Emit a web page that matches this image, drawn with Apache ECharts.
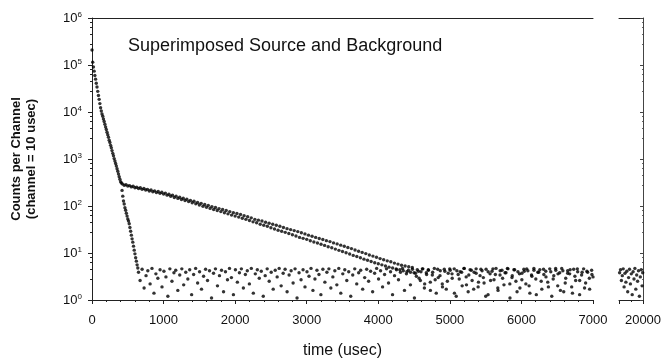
<!DOCTYPE html>
<html>
<head>
<meta charset="utf-8">
<script src="https://cdn.jsdelivr.net/npm/echarts@6/dist/echarts.min.js"></script>
<style>
  html, body { margin: 0; padding: 0; background: #fff; }
  #chart { width: 665px; height: 364px; }
</style>
</head>
<body>
<div id="chart"></div>
<script>
// * 叠加的源和本底计数 - 对数坐标散点图
// ! x 轴断开: 0-7000 和 20000 附近两段

// ? 数据 [时间 usec, 每道计数]
// 快速衰减段 (源和本底共有)
const steepPart = [
  [0, 209000], [10, 115000], [20, 91000], [30, 74000], [40, 60000], [50, 50000],
  [60, 41000], [70, 34000], [80, 27500], [90, 22400], [100, 18600], [110, 15100],
  [120, 12300], [130, 10500], [140, 9100], [150, 8100], [160, 7100], [170, 6300],
  [180, 5500], [190, 4800], [200, 4250], [210, 3700], [220, 3300], [230, 2900],
  [240, 2500], [250, 2250], [260, 1950], [270, 1740], [280, 1510], [290, 1320],
  [300, 1170], [310, 1020], [320, 910], [330, 800], [340, 710], [350, 620],
  [360, 550], [370, 480], [380, 420], [390, 370], [400, 330], [410, 310]
]

// 源: 慢衰减段
const sourceSlow = [
  [425, 295], [450, 276], [475, 283], [500, 266], [525, 272], [550, 255], [575, 263], [600, 245],
  [625, 251], [650, 236], [675, 244], [700, 226], [725, 235], [750, 219], [775, 226], [800, 209],
  [825, 219], [850, 201], [875, 210], [900, 193], [925, 203], [950, 186], [975, 196], [1000, 179],
  [1025, 188], [1050, 170], [1075, 178], [1100, 161], [1125, 170], [1150, 152], [1175, 162], [1200, 145],
  [1225, 154], [1250, 137], [1275, 146], [1300, 131], [1325, 139], [1350, 124], [1375, 132], [1400, 117],
  [1425, 126], [1450, 111], [1475, 119], [1500, 105], [1525, 114], [1550, 99], [1575, 108], [1600, 94],
  [1625, 103], [1650, 89], [1675, 97], [1700, 84], [1725, 93], [1750, 80], [1775, 88], [1800, 76],
  [1825, 84], [1850, 72], [1875, 80], [1900, 68], [1925, 76], [1950, 64], [1975, 72], [2000, 61],
  [2025, 69], [2050, 58], [2075, 66], [2100, 55], [2125, 62], [2150, 52], [2175, 59], [2200, 49],
  [2225, 56], [2250, 46], [2275, 52], [2300, 44], [2325, 50], [2350, 41], [2375, 48], [2400, 39],
  [2425, 45], [2450, 37], [2475, 43], [2500, 34.5], [2525, 41], [2550, 32.5], [2575, 39], [2600, 30.5],
  [2625, 37], [2650, 29], [2675, 35], [2700, 27.5], [2725, 33], [2750, 26], [2775, 31.5], [2800, 24.5],
  [2825, 30], [2850, 23], [2875, 28.5], [2900, 21.5], [2925, 27], [2950, 20.5], [2975, 25.5], [3000, 19.5],
  [3025, 24], [3050, 18.2], [3075, 22.8], [3100, 17.2], [3125, 21.5], [3150, 16.3], [3175, 20.4], [3200, 15.4],
  [3225, 19.4], [3250, 14.5], [3275, 18.3], [3300, 13.6], [3325, 17.5], [3350, 12.9], [3375, 16.4], [3400, 12.1],
  [3425, 15.6], [3450, 11.4], [3475, 14.7], [3500, 10.8], [3525, 13.9], [3550, 10.1], [3575, 13.1], [3600, 9.5],
  [3625, 12.4], [3650, 8.9], [3675, 11.6], [3700, 8.4], [3725, 10.9], [3750, 7.9], [3775, 10.3], [3800, 7.4],
  [3825, 9.7], [3850, 7.0], [3875, 9.1], [3900, 6.6], [3925, 8.6], [3950, 6.2], [3975, 8.1], [4000, 5.9],
  [4025, 7.6], [4050, 5.6], [4075, 7.2], [4100, 5.3], [4125, 6.8], [4150, 5.0], [4175, 6.5], [4200, 4.8],
  [4225, 6.1], [4250, 4.6], [4275, 5.8], [4300, 4.4], [4325, 5.5], [4350, 4.2], [4375, 5.3], [4400, 4.0],
  [4425, 5.1], [4450, 3.9], [4475, 4.9], [4500, 3.8]
]

// 源: 尾部 (落到本底水平)
const sourceTail = [
  [4520, 3.7], [4545, 4.4], [4570, 2.9], [4596, 4.0], [4622, 4.6], [4648, 2.2], [4675, 3.5], [4700, 4.3],
  [4728, 1.6], [4760, 3.9], [4795, 2.7], [4830, 4.5], [4862, 3.3], [4897, 1.9], [4930, 4.1], [4965, 2.5],
  [4998, 4.6], [5030, 3.6], [5064, 1.4], [5098, 4.2], [5131, 2.8], [5165, 3.9], [5198, 4.7], [5232, 2.1],
  [5265, 3.4], [5300, 4.3], [5333, 1.7], [5367, 3.7], [5400, 2.4], [5434, 4.5], [5468, 3.0], [5501, 1.2],
  [5535, 4.0], [5569, 2.6], [5602, 4.6], [5636, 3.5], [5670, 1.8], [5703, 4.2], [5737, 2.9], [5771, 3.8],
  [5804, 4.7], [5838, 2.2], [5872, 3.3], [5905, 4.4], [5939, 1.5], [5973, 3.6], [6006, 2.7], [6040, 4.1],
  [6074, 4.6], [6107, 2.0], [6141, 3.4], [6175, 4.3], [6208, 1.3], [6242, 3.9], [6276, 2.5], [6309, 4.5],
  [6343, 3.1], [6377, 1.9], [6410, 4.0], [6444, 2.8], [6478, 4.7], [6511, 3.6], [6545, 1.6], [6579, 4.2],
  [6612, 2.3], [6646, 3.7], [6680, 4.4], [6713, 1.4], [6747, 3.2], [6781, 4.6], [6814, 2.6], [6848, 3.9],
  [6882, 1.8], [6915, 4.1], [6949, 2.9], [6985, 3.5]
]

// 本底: 快速下降段
const bgDrop = [
  [420, 215], [430, 162], [440, 128], [450, 110], [460, 92], [470, 81], [480, 70], [490, 61],
  [500, 53], [510, 48], [520, 42], [530, 35], [540, 29], [550, 24], [560, 20], [570, 17],
  [580, 14], [590, 11.5], [600, 9.6], [610, 7.9], [620, 6.7], [630, 5.6], [640, 4.8]
]

// 本底: 平坦噪声段
const bgNoise = [
  [650, 3.9], [672, 2.6], [700, 4.5], [728, 1.8], [755, 3.3], [780, 4.2], [812, 2.2], [838, 4.7],
  [866, 1.4], [893, 3.6], [920, 2.9], [951, 4.4], [978, 1.9], [1005, 4.1], [1033, 3.1], [1060, 1.2],
  [1088, 4.6], [1117, 2.5], [1145, 3.8], [1170, 4.3], [1199, 1.6], [1226, 3.4], [1255, 4.6], [1281, 2.1],
  [1310, 3.9], [1339, 2.8], [1365, 4.4], [1392, 1.3], [1420, 3.5], [1448, 4.7], [1476, 2.3], [1503, 4.0],
  [1530, 1.7], [1559, 3.2], [1587, 4.5], [1614, 2.6], [1642, 4.2], [1670, 1.1], [1698, 3.7], [1725, 4.6],
  [1753, 2.0], [1781, 3.3], [1810, 4.3], [1838, 1.5], [1865, 4.0], [1893, 2.7], [1921, 4.7], [1948, 3.0],
  [1976, 1.3], [2004, 4.4], [2031, 2.4], [2060, 3.8], [2087, 4.6], [2115, 1.8], [2143, 3.5], [2170, 4.2],
  [2199, 2.2], [2226, 4.7], [2254, 1.4], [2282, 3.6], [2310, 4.4], [2337, 2.9], [2365, 4.1], [2393, 1.2],
  [2420, 3.3], [2448, 4.6], [2476, 2.5], [2504, 3.9], [2532, 1.7], [2560, 4.3], [2587, 3.1], [2615, 4.7],
  [2643, 2.0], [2671, 3.7], [2698, 4.5], [2726, 1.5], [2754, 3.4], [2782, 4.2], [2810, 2.3], [2837, 4.6],
  [2865, 1.1], [2893, 3.8], [2921, 2.7], [2949, 4.4], [2976, 1.9], [3004, 4.0], [3032, 3.2], [3060, 4.7],
  [3087, 1.6], [3115, 2.8], [3143, 4.3], [3171, 3.5], [3198, 1.3], [3226, 4.5], [3254, 2.4], [3282, 3.9],
  [3310, 4.6], [3337, 1.8], [3365, 3.1], [3393, 4.2], [3421, 2.1], [3448, 4.7], [3476, 1.4], [3504, 3.6],
  [3532, 4.4], [3560, 2.6], [3587, 4.0], [3615, 1.2], [3643, 3.4], [3671, 4.6], [3699, 2.2], [3726, 3.8],
  [3754, 4.3], [3782, 1.7], [3810, 3.0], [3838, 4.5], [3865, 2.5], [3893, 4.1], [3921, 1.5], [3949, 3.7],
  [3977, 4.7], [4004, 2.8], [4032, 4.2], [4060, 1.9], [4088, 3.5], [4115, 4.6], [4143, 2.3], [4171, 4.0],
  [4199, 1.3], [4227, 3.3], [4254, 4.4], [4282, 2.7], [4310, 3.9], [4338, 4.7], [4366, 1.6], [4393, 3.6],
  [4421, 4.3], [4449, 2.1], [4477, 4.5], [4505, 1.1], [4532, 3.2], [4560, 4.1], [4588, 2.6], [4616, 4.6],
  [4644, 1.8], [4671, 3.8], [4699, 4.4], [4727, 2.4], [4755, 3.4], [4783, 4.7], [4810, 1.4], [4838, 3.0],
  [4866, 4.2], [4894, 2.2], [4922, 4.5], [4950, 1.7], [4977, 3.7], [5005, 4.3], [5033, 2.9], [5061, 4.6],
  [5089, 1.2], [5116, 3.5], [5144, 4.0], [5172, 2.0], [5200, 4.7], [5228, 3.1], [5256, 1.5], [5283, 4.4],
  [5311, 2.6], [5339, 3.9], [5367, 4.6], [5395, 1.9], [5422, 3.3], [5450, 4.2], [5478, 2.3], [5506, 4.5],
  [5534, 1.3], [5562, 3.6], [5589, 4.1], [5617, 2.7], [5645, 4.7], [5673, 1.6], [5701, 3.4], [5728, 4.3],
  [5756, 2.1], [5784, 3.8], [5812, 4.6], [5840, 1.1], [5868, 3.0], [5895, 4.4], [5923, 2.5], [5951, 4.0],
  [5979, 1.8], [6007, 3.7], [6034, 4.5], [6062, 2.2], [6090, 4.2], [6118, 1.4], [6146, 3.2], [6174, 4.7],
  [6201, 2.8], [6229, 3.9], [6257, 4.4], [6285, 1.7], [6313, 3.5], [6340, 4.1], [6368, 2.4], [6396, 4.6],
  [6424, 1.2], [6452, 3.3], [6480, 4.3], [6507, 2.0], [6535, 3.8], [6563, 4.7], [6591, 1.5], [6619, 2.9],
  [6646, 4.2], [6674, 3.6], [6702, 1.9], [6730, 4.5], [6758, 2.6], [6786, 4.0], [6813, 1.3], [6841, 3.4],
  [6869, 4.6], [6897, 2.3], [6925, 3.9], [6953, 1.7], [6981, 4.3], [7000, 3.1]
]

// 20000 usec 附近的一小段
const lateCounts = [
  [19610, 3.8], [19625, 4.4], [19640, 2.6], [19655, 3.3], [19670, 4.6], [19685, 1.9], [19700, 3.7],
  [19715, 2.4], [19730, 4.1], [19745, 1.5], [19760, 3.0], [19775, 4.5], [19790, 2.2], [19805, 3.6],
  [19820, 1.3], [19835, 4.0], [19850, 2.8], [19865, 4.7], [19880, 1.7], [19895, 3.4], [19910, 2.5],
  [19925, 4.2], [19940, 1.2], [19955, 3.1], [19970, 4.4], [19985, 2.0], [19995, 3.8]
]

// 刻度
const xTicks = [0, 1000, 2000, 3000, 4000, 5000, 6000, 7000]
const yMin = 1
const yMax = 1e6

const font = 'Liberation Sans, Arial, sans-serif'
const axisColor = '#222'
const dotColor = '#000'

const chart = echarts.init(document.getElementById('chart'), null, { renderer: 'canvas' })

const dotStyle = {
  type: 'scatter',
  symbol: 'circle',
  symbolSize: 3.4,
  itemStyle: { color: dotColor },
  silent: true
}

const option = {
  animation: false,
  backgroundColor: '#fff',
  title: {
    text: 'Superimposed Source and Background',
    left: 128,
    top: 37,
    padding: 0,
    textStyle: { fontFamily: font, fontSize: 18, fontWeight: 'normal', color: '#111' }
  },
  grid: [
    { left: 92, right: 72, top: 18, bottom: 64, containLabel: false, outerBoundsMode: 'none' },
    { left: 619, right: 22, top: 18, bottom: 64, containLabel: false, outerBoundsMode: 'none' }
  ],
  xAxis: [
    {
      gridIndex: 0,
      type: 'value',
      min: xTicks[0],
      max: xTicks[xTicks.length - 1],
      interval: 1000,
      name: 'time (usec)',
      nameLocation: 'middle',
      nameGap: 43,
      nameTextStyle: { fontFamily: font, fontSize: 16, color: '#111' },
      axisLine: { lineStyle: { color: axisColor, width: 1 } },
      axisTick: { show: true, length: 4, lineStyle: { color: axisColor } },
      minorTick: { show: true, splitNumber: 5, length: 2, lineStyle: { color: axisColor } },
      axisLabel: { fontFamily: font, fontSize: 13, color: '#111', margin: 14, formatter: v => String(v) },
      splitLine: { show: false }
    },
    {
      gridIndex: 0,
      type: 'value',
      position: 'top',
      min: 0,
      max: 7000,
      axisLine: { lineStyle: { color: axisColor, width: 1 } },
      axisTick: { show: false },
      axisLabel: { show: false },
      splitLine: { show: false }
    },
    {
      gridIndex: 1,
      type: 'value',
      min: 19600,
      max: 20000,
      interval: 400,
      axisLine: { lineStyle: { color: axisColor, width: 1 } },
      axisTick: { show: true, length: 4, lineStyle: { color: axisColor } },
      minorTick: { show: true, splitNumber: 2, length: 2, lineStyle: { color: axisColor } },
      axisLabel: {
        fontFamily: font, fontSize: 13, color: '#111', margin: 14,
        showMinLabel: false, showMaxLabel: true, formatter: v => String(v)
      },
      splitLine: { show: false }
    },
    {
      gridIndex: 1,
      type: 'value',
      position: 'top',
      min: 19600,
      max: 20000,
      axisLine: { lineStyle: { color: axisColor, width: 1 } },
      axisTick: { show: false },
      axisLabel: { show: false },
      splitLine: { show: false }
    }
  ],
  yAxis: [
    {
      gridIndex: 0,
      type: 'log',
      logBase: 10,
      min: yMin,
      max: yMax,
      splitNumber: 6,
      name: 'Counts per Channel\n(channel = 10 usec)',
      nameLocation: 'middle',
      nameRotate: 90,
      nameGap: 53,
      nameTextStyle: { fontFamily: font, fontSize: 13, fontWeight: 'bold', color: '#111', lineHeight: 15 },
      axisLine: { show: true, lineStyle: { color: axisColor, width: 1 } },
      axisTick: { show: true, length: 4, lineStyle: { color: axisColor } },
      minorTick: { show: true, splitNumber: 5, length: 2, lineStyle: { color: axisColor } },
      axisLabel: {
        margin: 10,
        formatter: v => '{b|10}{s|' + Math.round(Math.log10(v)) + '}',
        rich: {
          b: { fontFamily: font, fontSize: 13, color: '#111', lineHeight: 15 },
          s: { fontFamily: font, fontSize: 8, color: '#111', verticalAlign: 'top', lineHeight: 8 }
        }
      },
      splitLine: { show: false }
    },
    {
      gridIndex: 1,
      type: 'log',
      logBase: 10,
      min: yMin,
      max: yMax,
      splitNumber: 6,
      position: 'right',
      axisLine: { show: true, lineStyle: { color: '#444', width: 1 } },
      axisTick: { show: true, inside: true, length: 3, lineStyle: { color: '#444' } },
      minorTick: { show: true, splitNumber: 5, length: 1, lineStyle: { color: '#666' } },
      axisLabel: { show: false },
      splitLine: { show: false }
    }
  ],
  series: [
    Object.assign({}, dotStyle, {
      name: 'Source',
      xAxisIndex: 0, yAxisIndex: 0,
      data: steepPart.concat(sourceSlow, sourceTail)
    }),
    Object.assign({}, dotStyle, {
      name: 'Background',
      xAxisIndex: 0, yAxisIndex: 0,
      data: bgDrop.concat(bgNoise)
    }),
    Object.assign({}, dotStyle, {
      name: 'Late',
      xAxisIndex: 2, yAxisIndex: 1,
      data: lateCounts
    })
  ]
}

chart.setOption(option)
</script>
</body>
</html>
